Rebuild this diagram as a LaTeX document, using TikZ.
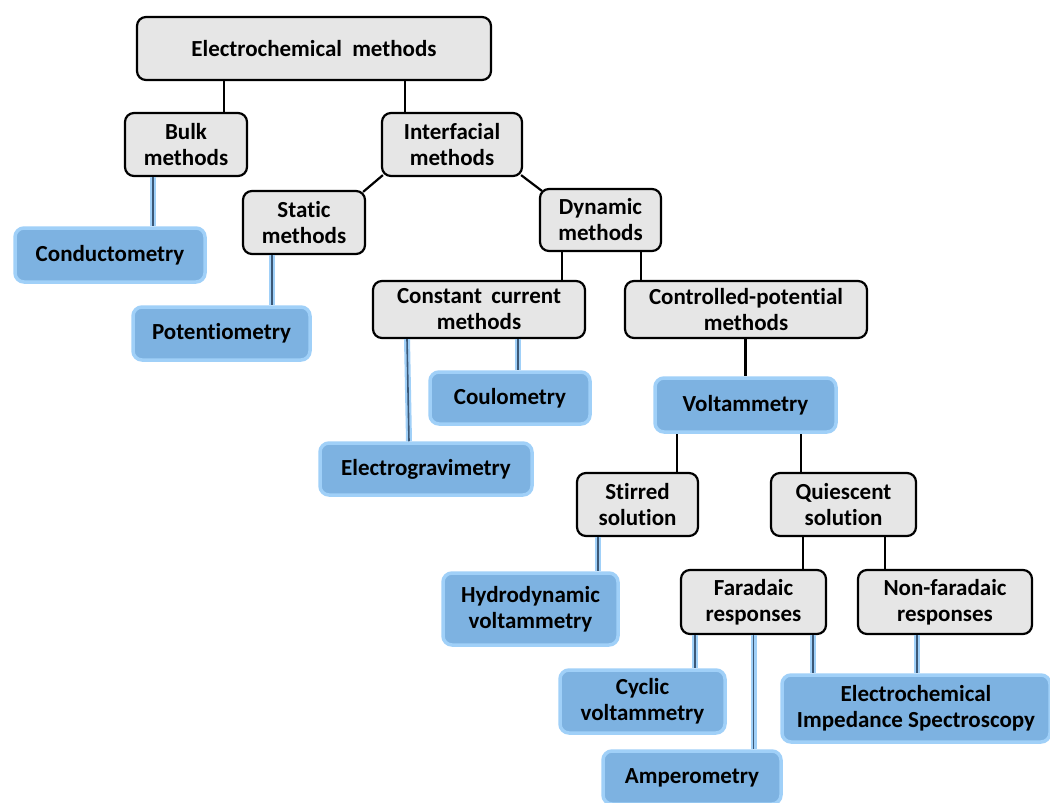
\documentclass[tikz,border=0pt]{standalone}
\usepackage{fontspec}
\setmainfont{Carlito}[Ligatures=NoCommon]
\usetikzlibrary{positioning}
\definecolor{boxgrey}{RGB}{230,230,230}
\definecolor{boxblue}{RGB}{125,178,225}
\definecolor{glowblue}{RGB}{160,208,248}
\definecolor{lineblue}{RGB}{60,88,118}
\tikzset{
  greybox/.style={draw=black,fill=boxgrey,line width=2.2pt,rounded corners=9pt,align=center,
    font=\bfseries\fontsize{23}{26}\selectfont,inner sep=0pt},
  bluebox/.style={draw=glowblue,fill=boxblue,line width=3.5pt,rounded corners=9pt,align=center,
    font=\bfseries\fontsize{23}{26}\selectfont,inner sep=0pt},
  link/.style={draw=black,line width=2.2pt},
  bluelink/.style={draw=lineblue,line width=1.6pt,preaction={draw=glowblue,line width=6pt}}
}
\begin{document}
\begin{tikzpicture}[x=1pt,y=-1pt]
\useasboundingbox (0,0) rectangle (1050,803);

% top levels
\node[greybox,minimum width=354pt,minimum height=63pt] (root) at (314,48.5) {Electrochemical\hspace{5pt} methods};
\node[greybox,minimum width=122pt,minimum height=63pt] (bulk) at (186,144.5) {Bulk\\methods};
\node[greybox,minimum width=140pt,minimum height=63pt] (inter) at (452,144.5) {Interfacial\\methods};
\node[greybox,minimum width=122pt,minimum height=63pt] (static) at (304,222.5) {Static\\methods};
\node[greybox,minimum width=121pt,minimum height=62pt] (dyn) at (600.5,220) {Dynamic\\methods};
\node[greybox,minimum width=212pt,minimum height=57pt] (constc) at (479,309.5) {Constant\hspace{4pt} current\\methods};
\node[greybox,minimum width=242pt,minimum height=57pt] (contp) at (746,309.5) {Controlled-potential\\methods};
\node[greybox,minimum width=121pt,minimum height=63pt] (stirred) at (637.5,504.5) {Stirred\\solution};
\node[greybox,minimum width=145pt,minimum height=63pt] (quiet) at (843.5,504.5) {Quiescent\\solution};
\node[greybox,minimum width=145pt,minimum height=64pt] (farad) at (753.5,602) {Faradaic\\responses};
\node[greybox,minimum width=174pt,minimum height=64pt] (nonfar) at (945,602) {Non-faradaic\\responses};

% techniques
\node[bluebox,minimum width=190pt,minimum height=54pt] (cond) at (110,255) {Conductometry};
\node[bluebox,minimum width=177pt,minimum height=53pt] (poten) at (221.5,333.5) {Potentiometry};
\node[bluebox,minimum width=160pt,minimum height=52pt] (coul) at (510,398) {Coulometry};
\node[bluebox,minimum width=212pt,minimum height=52pt] (egrav) at (426,469) {Electrogravimetry};
\node[bluebox,minimum width=181pt,minimum height=54pt] (volt) at (745.5,405) {Voltammetry};
\node[bluebox,minimum width=175pt,minimum height=72pt] (hydro) at (530.5,609) {Hydrodynamic\\voltammetry};
\node[bluebox,minimum width=165pt,minimum height=63pt] (cyclic) at (642.5,701.5) {Cyclic\\voltammetry};
\node[bluebox,minimum width=268pt,minimum height=67pt] (eis) at (916,708.5) {Electrochemical\\Impedance Spectroscopy};
\node[bluebox,minimum width=178pt,minimum height=53pt] (ampero) at (692,777.5) {Amperometry};

% black links
\draw[link] ([xshift=38]bulk.north) -- ([xshift=38]bulk.north |- root.south);
\draw[link] ([xshift=-47]inter.north) -- ([xshift=-47]inter.north |- root.south);
\draw[link] ([shift={(2,-2)}]inter.south west) -- ([shift={(-3,2)}]static.north east);
\draw[link] ([shift={(-2,-2)}]inter.south east) -- ([shift={(3,3)}]dyn.north west);
\draw[link] ([xshift=83]constc.north) -- ([xshift=83]constc.north |- dyn.south);
\draw[link] ([xshift=-105]contp.north) -- ([xshift=-105]contp.north |- dyn.south);
\draw[link] (contp.south -| volt.north) -- (volt.north);
\draw[link] ([xshift=39.5]stirred.north) -- ([xshift=39.5]stirred.north |- volt.south);
\draw[link] ([xshift=-42.5]quiet.north) -- ([xshift=-42.5]quiet.north |- volt.south);
\draw[link] ([xshift=49.5]farad.north) -- ([xshift=49.5]farad.north |- quiet.south);
\draw[link] ([xshift=-60]nonfar.north) -- ([xshift=-60]nonfar.north |- quiet.south);

% blue links
\draw[bluelink] ([xshift=43]cond.north |- bulk.south) -- ([xshift=43]cond.north);
\draw[bluelink] ([xshift=50.5]poten.north |- static.south) -- ([xshift=50.5]poten.north);
\draw[bluelink] ([xshift=-72]constc.south) -- ([xshift=-17]egrav.north);
\draw[bluelink] ([xshift=8]coul.north |- constc.south) -- ([xshift=8]coul.north);
\draw[bluelink] ([xshift=67.5]hydro.north |- stirred.south) -- ([xshift=67.5]hydro.north);
\draw[bluelink] ([xshift=52.5]cyclic.north |- farad.south) -- ([xshift=52.5]cyclic.north);
\draw[bluelink] (farad.south) -- (farad.south |- ampero.north);
\draw[bluelink] ([xshift=-103]eis.north |- farad.south) -- ([xshift=-103]eis.north);
\draw[bluelink] ([xshift=1]eis.north |- nonfar.south) -- ([xshift=1]eis.north);
\end{tikzpicture}
\end{document}
